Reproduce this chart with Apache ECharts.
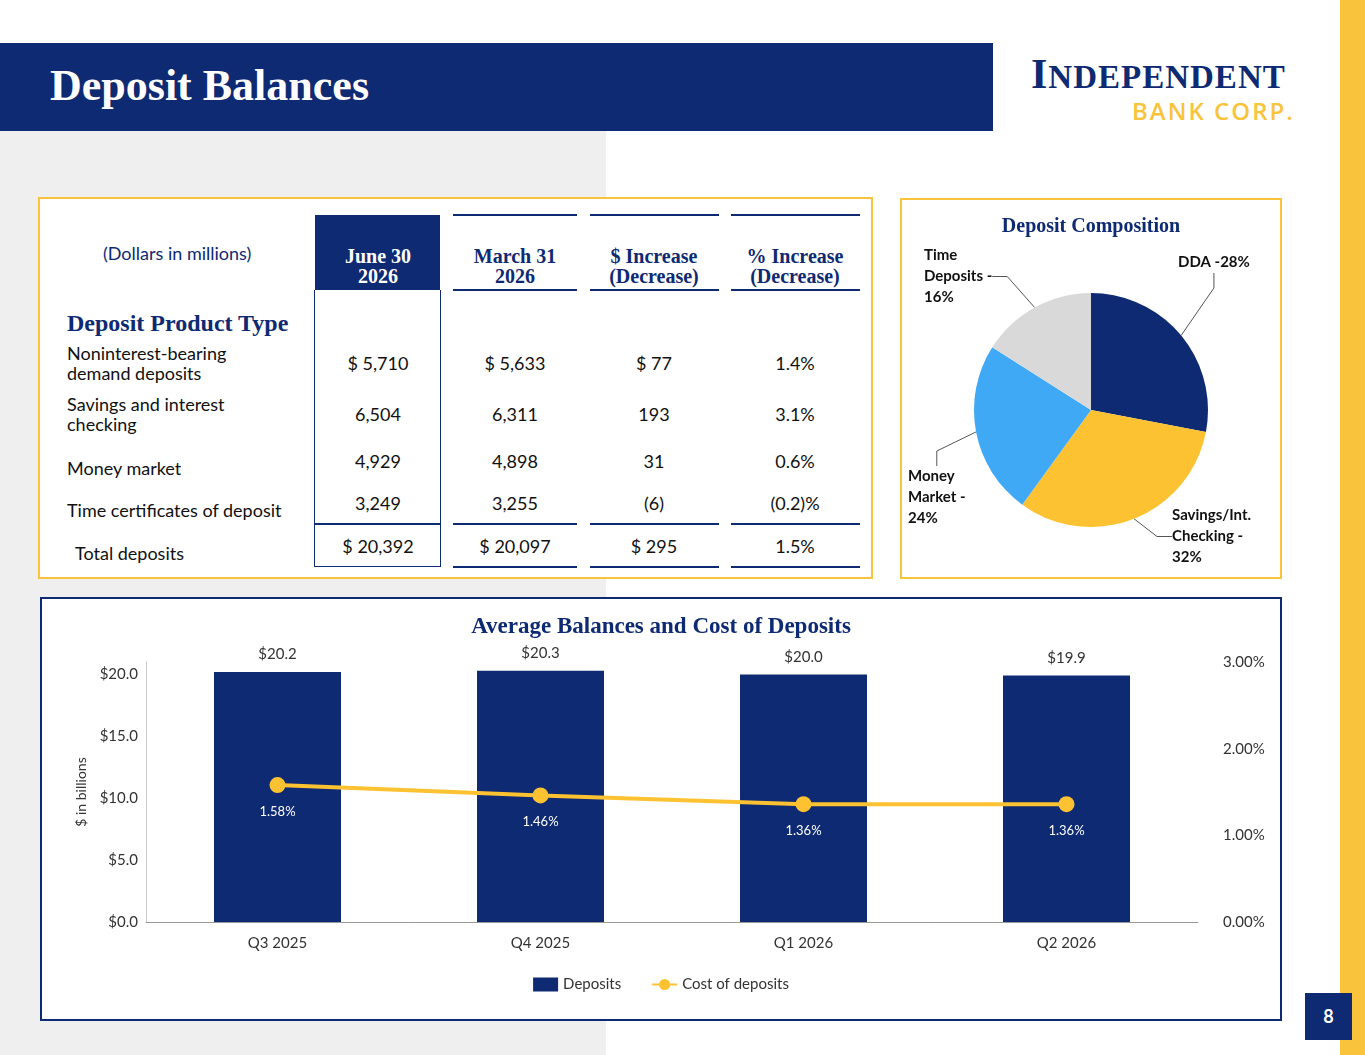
<!DOCTYPE html>
<html><head><meta charset="utf-8">
<script src="https://cdn.jsdelivr.net/npm/echarts@6/dist/echarts.min.js"></script>
<style>
body{margin:0;width:1365px;height:1055px;position:relative;background:#fff;font-family:Lato,"Liberation Sans",sans-serif;overflow:hidden}
.a{position:absolute}
.t{position:absolute;font-size:18px;color:#111;white-space:nowrap}
.c{text-align:center;transform:translateX(-50%)}
.h{font-family:"Liberation Serif",serif;font-weight:bold;color:#0e2a72;font-size:20px;line-height:20px;text-align:center;white-space:nowrap}
.ln{position:absolute;height:2px;background:#0e2a72}
</style></head><body>
<div class="a" style="left:0;top:131px;width:606px;height:924px;background:#efefef"></div>
<div class="a" style="left:0;top:43px;width:993px;height:88px;background:#0e2a72"></div>
<div class="a" style="left:50px;top:60px;font-family:'Liberation Serif',serif;font-weight:bold;font-size:44px;color:#fff">Deposit Balances</div>
<div class="a" style="left:1031px;top:50px;font-family:'Liberation Serif',serif;font-weight:bold;font-size:42px;color:#0e2a72;letter-spacing:1px">I<span style="font-size:33px">NDEPENDENT</span></div>
<div class="a" style="left:1132px;top:94px;font-family:'Open Sans',sans-serif;font-weight:600;font-size:24px;color:#f9c33b;letter-spacing:2px">BANK CORP.</div>
<div class="a" style="left:1340px;top:0;width:25px;height:1055px;background:#f9c33b"></div>
<div class="a" style="left:1305px;top:993px;width:47px;height:47px;background:#0e2a72;color:#fff;font-weight:bold;font-size:18px;text-align:center;line-height:47px">8</div>

<div class="a" style="left:38px;top:197px;width:831px;height:378px;border:2px solid #f9c33b;background:#fff"></div>
<div class="a" style="left:900px;top:198px;width:378px;height:377px;border:2px solid #f9c33b;background:#fff"></div>
<div class="a" style="left:40px;top:597px;width:1238px;height:420px;border:2px solid #0e2a72;background:#fff"></div>

<div id="table"></div>
<div id="pie" class="a" style="left:902px;top:200px;width:378px;height:377px"></div>
<div id="bar" class="a" style="left:42px;top:599px;width:1238px;height:420px"></div>
<script>
// ---- table data ----
const columns=["June 30\n2026","March 31\n2026","$ Increase\n(Decrease)","% Increase\n(Decrease)"];
const rowLabels=["Noninterest-bearing\ndemand deposits","Savings and interest\nchecking","Money market","Time certificates of deposit","Total deposits"];
const june=["$ 5,710","6,504","4,929","3,249","$ 20,392"];
const march=["$ 5,633","6,311","4,898","3,255","$ 20,097"];
const incr=["$ 77","193","31","(6)","$ 295"];
const pct=["1.4%","3.1%","0.6%","(0.2)%","1.5%"];
// ---- pie data ----
const pieNames=["DDA -28%","Savings/Int.\nChecking -\n32%","Money\nMarket -\n24%","Time\nDeposits -\n16%"];
const pieValues=[28,32,24,16];
const pieColors=["#0e2a72","#fdc232","#3fa9f5","#d9d9d9"];
// ---- bar/line data ----
const quarters=["Q3 2025","Q4 2025","Q1 2026","Q2 2026"];
const deposits=[20.2,20.3,20.0,19.9];
const costOfDeposits=[1.58,1.46,1.36,1.36];

// build table
let h='';
const colX=[378,515,654,795], colL=[315,453,590,731], colW=[125,124,129,129];
h+=`<div class="a" style="left:315px;top:215px;width:125px;height:75px;background:#0e2a72"></div>`;
h+=`<div class="a" style="left:314px;top:290px;width:125px;height:276px;border:1px solid #0e2a72;border-top:none"></div>`;
for(let i=1;i<4;i++){
 h+=`<div class="ln" style="left:${colL[i]}px;top:214px;width:${colW[i]}px"></div>`;
 h+=`<div class="ln" style="left:${colL[i]}px;top:289px;width:${colW[i]}px"></div>`;
 h+=`<div class="ln" style="left:${colL[i]}px;top:523px;width:${colW[i]}px"></div>`;
 h+=`<div class="ln" style="left:${colL[i]}px;top:566px;width:${colW[i]}px"></div>`;
}
h+=`<div class="ln" style="left:315px;top:523px;width:125px"></div>`;
columns.forEach((c,i)=>{h+=`<div class="a h c" style="left:${colX[i]}px;top:246px;${i==0?'color:#fff':''}">${c.replace('\n','<br>')}</div>`;});
h+=`<div class="t" style="left:103px;top:242px;color:#0e2a72">(Dollars in millions)</div>`;
h+=`<div class="a h" style="left:67px;top:311px;font-size:24px;line-height:24px;text-align:left">Deposit Product Type</div>`;
const ry=[363,414,461,503,546];
rowLabels.forEach((r,i)=>{
 const two=r.includes('\n');
 h+=`<div class="t" style="left:${i==4?75:67}px;top:${ry[i]-(two?20:9)+(i>=2?6:0)}px;line-height:20px">${r.replace('\n','<br>')}</div>`;
 [june,march,incr,pct].forEach((arr,j)=>{h+=`<div class="t c" style="left:${colX[j]}px;top:${ry[i]-11}px">${arr[i]}</div>`;});
});
document.getElementById('table').innerHTML=h;

const pie=echarts.init(document.getElementById('pie'));
pie.setOption({
 title:{text:'Deposit Composition',left:'center',top:12,textStyle:{fontFamily:'Liberation Serif',fontWeight:'bold',fontSize:20,color:'#0e2a72'}},
 series:[{type:'pie',radius:117,center:[189,210],startAngle:90,clockwise:true,
  data:pieNames.map((n,i)=>({name:n,value:pieValues[i],itemStyle:{color:pieColors[i]}})),
  label:{color:'#111',fontWeight:'bold',fontSize:15,lineHeight:21,fontFamily:'Lato',overflow:'none',align:'left'},
  labelLine:{lineStyle:{color:'#555'},length:25,length2:15},
  labelLayout:function(p){
    const pos=[[276,52],[270,305],[6,266],[22,45]];
    const i=p.dataIndex;
    return {x:pos[i][0],y:pos[i][1],align:'left',verticalAlign:'top',hideOverlap:false};
  }}]
});

const bar=echarts.init(document.getElementById('bar'));
bar.setOption({
 textStyle:{fontFamily:'Lato'},
 title:{text:'Average Balances and Cost of Deposits',left:'center',top:12,textStyle:{fontFamily:'Liberation Serif',fontWeight:'bold',fontSize:23,color:'#0e2a72'}},
 grid:{left:104,right:82,top:63,bottom:97},
 legend:{bottom:22,itemGap:30,textStyle:{fontSize:15,color:'#333'},data:[{name:'Deposits',icon:'rect'},{name:'Cost of deposits'}]},
 xAxis:{type:'category',data:quarters,axisTick:{show:false},axisLine:{lineStyle:{color:'#999'}},axisLabel:{fontSize:15,color:'#333',margin:14}},
 yAxis:[{type:'value',min:0,max:21,interval:5,name:'$ in billions',nameLocation:'middle',nameGap:58,nameTextStyle:{fontSize:14,color:'#333'},
   axisLine:{show:true,lineStyle:{color:'#ccc'}},splitLine:{show:false},axisLabel:{showMaxLabel:false,fontSize:15,color:'#333',formatter:v=>'$'+v.toFixed(1)}},
  {type:'value',min:0,max:3,interval:1,splitLine:{show:false},axisLabel:{fontSize:15,color:'#333',margin:25,formatter:v=>v.toFixed(2)+'%'}}],
 series:[{name:'Deposits',type:'bar',data:deposits,barWidth:127,itemStyle:{color:'#0e2a72'},
   label:{show:true,position:'top',distance:10,fontSize:15,color:'#333',formatter:p=>'$'+p.value.toFixed(1)}},
  {name:'Cost of deposits',type:'line',yAxisIndex:1,data:costOfDeposits,symbol:'circle',symbolSize:16,
   itemStyle:{color:'#fdc232'},lineStyle:{color:'#fdc232',width:4},
   label:{show:true,position:'bottom',distance:12,fontSize:13,color:'#fff',formatter:p=>p.value.toFixed(2)+'%'}}]
});
</script></body></html>
